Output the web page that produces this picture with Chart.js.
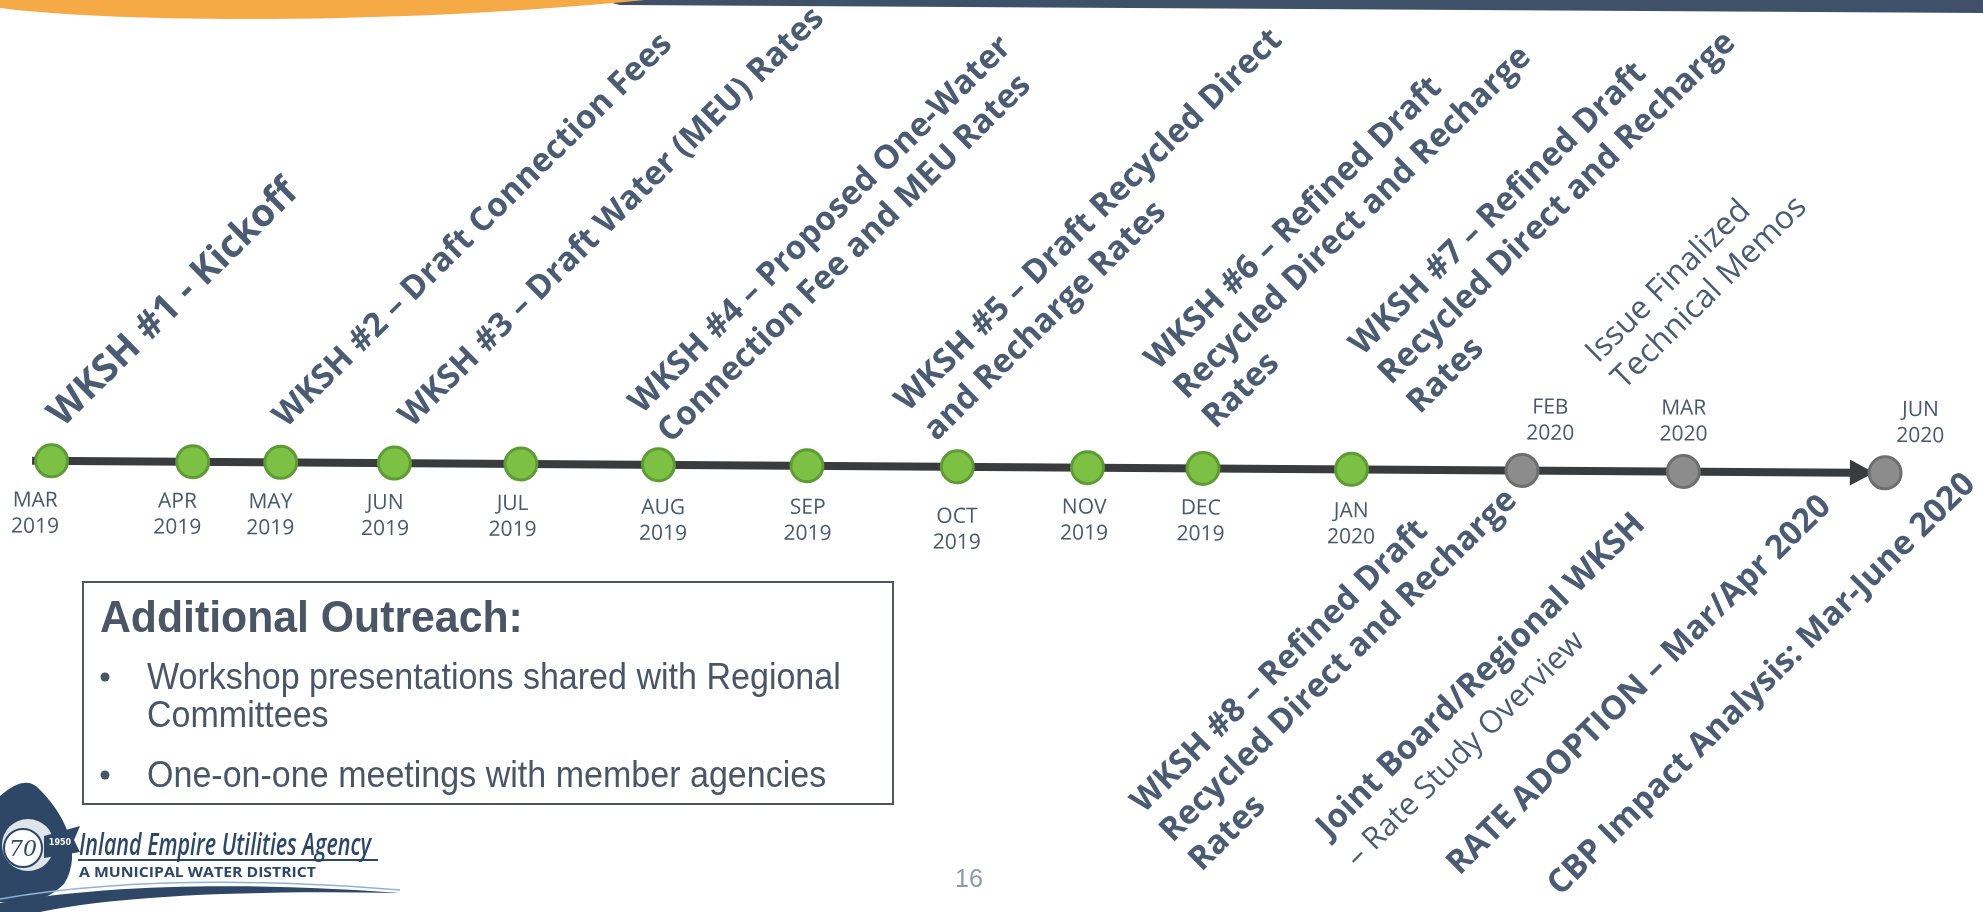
<!DOCTYPE html>
<html>
<head>
<meta charset="utf-8">
<script src="https://cdn.jsdelivr.net/npm/chart.js@4.4.1/dist/chart.umd.min.js"></script>
<style>
  html, body { margin: 0; padding: 0; background: #fff; overflow: hidden; }
  canvas { display: block; }
</style>
</head>
<body>
<canvas id="timeline" width="1983" height="912"></canvas>
<script>
// timeline stops, position = distance along the arrow (0 = first stop, 100 = last)
const months = ['MAR 2019', 'APR 2019', 'MAY 2019', 'JUN 2019', 'JUL 2019', 'AUG 2019', 'SEP 2019',
                'OCT 2019', 'NOV 2019', 'DEC 2019', 'JAN 2020', 'FEB 2020', 'MAR 2020', 'JUN 2020'];
const position = [0, 7.7, 12.5, 18.7, 25.6, 33.1, 41.2, 49.4, 56.5, 62.8, 70.9, 80.2, 89.0, 100];
const status = ['done', 'done', 'done', 'done', 'done', 'done', 'done',
                'done', 'done', 'done', 'done', 'planned', 'planned', 'planned'];
const aboveMonths = ['FEB 2020', 'MAR 2020', 'JUN 2020'];
const axisStart = -1.06;
const axisEnd = 98.3;
const arrowTip = 99.4;

// milestone texts, one entry per callout
const milestones = [
  ['WKSH #1 - Kickoff'],
  ['WKSH #2 – Draft Connection Fees'],
  ['WKSH #3 – Draft Water (MEU) Rates'],
  ['WKSH #4 – Proposed One-Water', 'Connection Fee and MEU Rates'],
  ['WKSH #5 – Draft Recycled Direct', 'and Recharge Rates'],
  ['WKSH #6 – Refined Draft', 'Recycled Direct and Recharge', 'Rates'],
  ['WKSH #7 – Refined Draft', 'Recycled Direct and Recharge', 'Rates'],
  ['Issue Finalized', 'Technical Memos'],
  ['WKSH #8 – Refined Draft', 'Recycled Direct and Recharge', 'Rates'],
  ['Joint Board/Regional WKSH', '– Rate Study Overview'],
  ['RATE ADOPTION – Mar/Apr 2020'],
  ['CBP Impact Analysis: Mar-June 2020']
];
const milestoneStop = [0, 2, 3, 5, 7, 9, 10, 12, 11, 12, 13, 13];

const outreachTitle = 'Additional Outreach:';
const outreachItems = [['Workshop presentations shared with Regional', 'Committees'],
                       ['One-on-one meetings with member agencies']];

// ---- layout / style (not data) ----
const DEG = Math.PI / 180;
const TILT = 0.375 * DEG;
const CX = 991, CY = 467;
const LABEL_ANGLE = -45 * DEG;
const INK = '#4a5b72';
const FONT = '"Open Sans", "Noto Sans", sans-serif';

// offset of each callout's first baseline start from its stop, in px
const milestoneLayout = [
  { dx: 11, dy: -33, size: 38 },
  { dx: 5, dy: -34 },
  { dx: 17, dy: -35 },
  { dx: -17, dy: -50 },
  { dx: -50, dy: -54 },
  { dx: -46, dy: -97 },
  { dx: 10, dy: -113 },
  { dx: -86, dy: -107, weights: ['normal', 'normal'], size: 32, lh: 37 },
  { dx: -376, dy: 346 },
  { dx: -352, dy: 370, weights: ['bold', 'normal'], sizes: [33, 31] },
  { dx: -423, dy: 406 },
  { dx: -322, dy: 426 }
];
// nudges of the month captions, px
const monthShift = [[-16, 0], [-15, 0], [-10, 0], [-9, 0], [-8, 0], [5, 3], [1, 2],
                    [0, 10], [-3, 0], [-2, 0], [0, 2], [28, 0], [0, 0], [35, 0]];

function condensedText(ctx, text, x, y, sx) {
  ctx.save();
  ctx.translate(x, y);
  ctx.scale(sx, 1);
  ctx.fillText(text, 0, 0);
  ctx.restore();
}

function fitText(ctx, text, x, y, width) {
  const w = ctx.measureText(text).width;
  condensedText(ctx, text, x, y, width / w);
}

function drawSlide(ctx) {
  ctx.save();
  ctx.fillStyle = '#ffffff';
  ctx.fillRect(0, 0, 1983, 912);

  // header strip
  ctx.fillStyle = '#3f5169';
  ctx.beginPath();
  ctx.moveTo(600, 0); ctx.lineTo(1983, 0); ctx.lineTo(1983, 13); ctx.lineTo(620, 5);
  ctx.closePath(); ctx.fill();
  ctx.fillStyle = '#f5aa45';
  ctx.beginPath();
  ctx.moveTo(0, 0); ctx.lineTo(0, 8);
  ctx.bezierCurveTo(110, 22, 380, 26, 645, 0);
  ctx.closePath(); ctx.fill();

  // outreach box
  ctx.strokeStyle = '#50565e';
  ctx.lineWidth = 2;
  ctx.strokeRect(83, 582, 810, 222);
  ctx.fillStyle = '#4a5566';
  ctx.textAlign = 'left';
  ctx.textBaseline = 'alphabetic';
  ctx.font = 'bold 45px "Liberation Sans", Arial, sans-serif';
  condensedText(ctx, outreachTitle, 100, 632, 0.95);
  ctx.font = '37px "Liberation Sans", Arial, sans-serif';
  let y = 689;
  outreachItems.forEach((item) => {
    ctx.beginPath(); ctx.arc(105, y - 12, 4.5, 0, Math.PI * 2); ctx.fill();
    item.forEach((line, j) => {
      condensedText(ctx, line, 147, y, 0.92);
      y += (j < item.length - 1) ? 38 : 0;
    });
    y += 60;
  });

  // logo
  ctx.fillStyle = '#2e4767';
  ctx.beginPath();
  ctx.moveTo(0, 796);
  ctx.quadraticCurveTo(22, 776, 36, 786);
  ctx.bezierCurveTo(64, 812, 84, 852, 64, 884);
  ctx.quadraticCurveTo(40, 908, 0, 902);
  ctx.closePath(); ctx.fill();
  ctx.fillStyle = '#dfe4ea';
  ctx.beginPath(); ctx.arc(28, 845, 26, 0, Math.PI * 2); ctx.fill();
  ctx.fillStyle = '#2e4767';
  ctx.beginPath();
  ctx.moveTo(44, 836); ctx.lineTo(80, 826); ctx.lineTo(74, 840); ctx.lineTo(80, 852); ctx.lineTo(44, 858);
  ctx.closePath(); ctx.fill();
  ctx.fillStyle = '#ffffff';
  ctx.beginPath(); ctx.arc(23, 848, 19, 0, Math.PI * 2); ctx.fill();
  ctx.strokeStyle = '#2e4767'; ctx.lineWidth = 2; ctx.stroke();
  ctx.fillStyle = '#2e4767';
  ctx.font = 'italic 22px "DejaVu Serif", serif';
  ctx.textAlign = 'center';
  ctx.fillText('70', 23, 856);
  ctx.fillStyle = '#ffffff';
  ctx.font = 'bold 8px "DejaVu Sans", sans-serif';
  ctx.fillText('1950', 60, 845);
  ctx.textAlign = 'left';
  ctx.fillStyle = '#2e4767';
  ctx.font = 'italic 600 30px ' + FONT;
  fitText(ctx, 'Inland Empire Utilities Agency', 79, 855, 292);
  ctx.fillRect(78, 859, 300, 2);
  ctx.font = 'bold 14px ' + FONT;
  fitText(ctx, 'A MUNICIPAL WATER DISTRICT', 79, 877, 237);
  ctx.beginPath();
  ctx.moveTo(0, 912); ctx.lineTo(0, 903);
  ctx.bezierCurveTo(110, 884, 250, 882, 400, 893);
  ctx.bezierCurveTo(260, 890, 120, 895, 40, 912);
  ctx.closePath(); ctx.fill();
  ctx.strokeStyle = '#8fb3d6'; ctx.lineWidth = 1.5;
  ctx.beginPath(); ctx.moveTo(0, 899); ctx.bezierCurveTo(110, 880, 250, 878, 400, 890); ctx.stroke();

  // page number
  ctx.fillStyle = '#8d98a8';
  ctx.font = '25px "Liberation Sans", Arial, sans-serif';
  ctx.fillText('16', 955, 887);
  ctx.restore();
}

function stopPixel(chart, i) {
  return { x: chart.scales.x.getPixelForValue(position[i]), y: chart.scales.y.getPixelForValue(0) };
}

function drawArrow(chart) {
  const ctx = chart.ctx;
  const y = chart.scales.y.getPixelForValue(0);
  const base = chart.scales.x.getPixelForValue(axisEnd) - 4;
  const tip = chart.scales.x.getPixelForValue(arrowTip);
  ctx.save();
  ctx.fillStyle = '#3a3b3d';
  ctx.beginPath();
  ctx.moveTo(base, y - 13); ctx.lineTo(tip, y); ctx.lineTo(base, y + 13);
  ctx.closePath(); ctx.fill();
  ctx.restore();
}

function drawMonthLabels(chart) {
  const ctx = chart.ctx;
  ctx.save();
  ctx.fillStyle = '#4a586a';
  ctx.font = '21px ' + FONT;
  ctx.textAlign = 'center';
  ctx.textBaseline = 'alphabetic';
  months.forEach((m, i) => {
    const p = stopPixel(chart, i);
    const [mon, yr] = m.split(' ');
    const x = p.x + monthShift[i][0];
    const above = aboveMonths.includes(m);
    const y1 = above ? p.y - 57 : p.y + 46 + monthShift[i][1];
    ctx.fillText(mon, x, y1);
    ctx.fillText(yr, x, y1 + 26);
  });
  ctx.restore();
}

function drawMilestones(chart) {
  const ctx = chart.ctx;
  milestones.forEach((lines, k) => {
    const lay = milestoneLayout[k];
    const p = stopPixel(chart, milestoneStop[k]);
    const lh = lay.lh || 41;
    ctx.save();
    ctx.translate(p.x + lay.dx, p.y + lay.dy);
    ctx.rotate(LABEL_ANGLE);
    ctx.fillStyle = INK;
    ctx.textAlign = 'left';
    ctx.textBaseline = 'alphabetic';
    lines.forEach((line, j) => {
      const weight = lay.weights ? lay.weights[j] : 'bold';
      const size = lay.sizes ? lay.sizes[j] : (lay.size || 33);
      ctx.font = weight + ' ' + size + 'px ' + FONT;
      ctx.fillText(line, 0, j * lh);
    });
    ctx.restore();
  });
}

const slidePlugin = {
  id: 'slide',
  beforeDraw(chart) { drawSlide(chart.ctx); },
  beforeDatasetsDraw(chart) {
    const ctx = chart.ctx;
    ctx.save();
    ctx.translate(CX, CY);
    ctx.rotate(TILT);
    ctx.translate(-CX, -CY);
  },
  afterDatasetDraw(chart, args) { if (args.index === 0) drawArrow(chart); },
  afterDatasetsDraw(chart) {
    drawMonthLabels(chart);
    drawMilestones(chart);
    chart.ctx.restore();
  }
};

function build() {
  new Chart(document.getElementById('timeline'), {
    type: 'scatter',
    data: {
      datasets: [
        {
          type: 'line',
          data: [{ x: axisStart, y: 0 }, { x: axisEnd, y: 0 }],
          borderColor: '#3a3b3d',
          borderWidth: 8,
          borderCapStyle: 'butt',
          pointRadius: 0,
          order: 2,
          clip: false
        },
        {
          data: position.map((p) => ({ x: p, y: 0 })),
          pointRadius: 16,
          pointBorderWidth: 3,
          backgroundColor: status.map(s => s === 'done' ? '#7cc044' : '#8c8c8c'),
          borderColor: status.map(s => s === 'done' ? '#5e9a36' : '#6e6e6e'),
          order: 1,
          clip: false
        }
      ]
    },
    options: {
      responsive: false,
      animation: false,
      events: [],
      layout: { padding: { top: 22 }, autoPadding: false },
      scales: {
        x: { type: 'linear', display: false, min: -2.81, max: 105.34 },
        y: { type: 'linear', display: false, min: -1, max: 1 }
      },
      plugins: { legend: { display: false }, tooltip: { enabled: false } }
    },
    plugins: [slidePlugin]
  });
}

Promise.all([
  document.fonts.load('bold 33px "Open Sans"'),
  document.fonts.load('21px "Open Sans"'),
  document.fonts.load('37px "Liberation Sans"')
]).then(build, build);
</script>
</body>
</html>
